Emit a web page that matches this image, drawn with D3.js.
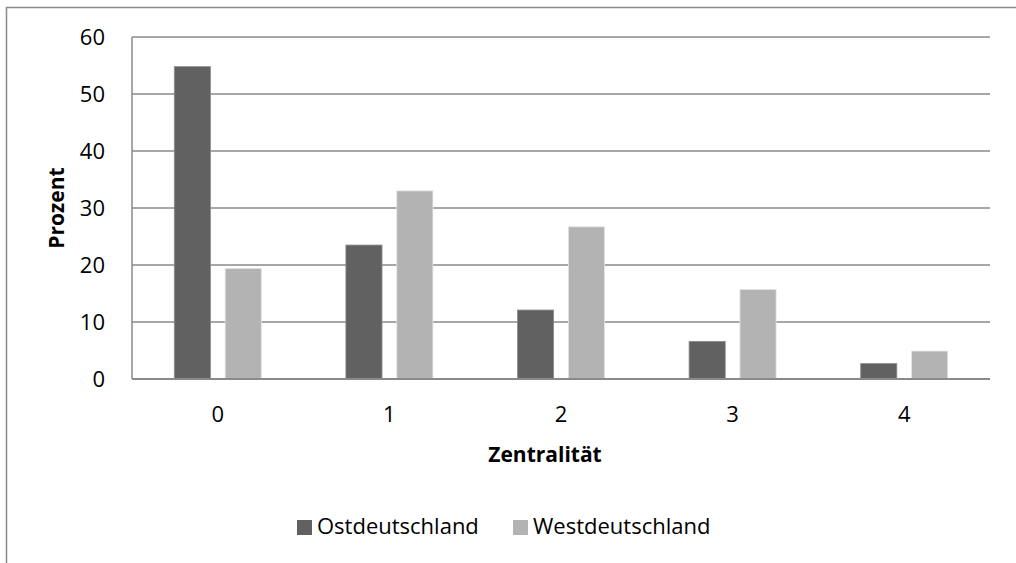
<!DOCTYPE html>
<html>
<head>
<meta charset="utf-8">
<script src="https://cdn.jsdelivr.net/npm/d3@7/dist/d3.min.js"></script>
<style>
  html, body { margin: 0; padding: 0; background: #fff; }
  svg { display: block; font-family: 'Open Sans', sans-serif; }
</style>
</head>
<body>
<div id="chart"></div>
<script>
// ── Data ─────────────────────────────────────
const categories = ["0", "1", "2", "3", "4"];
const seriesNames = ["Ostdeutschland", "Westdeutschland"];
const ostValues  = [54.8, 23.5, 12.1, 6.6, 2.7];
const westValues = [19.4, 33.0, 26.7, 15.7, 4.9];
const yTicks = [0, 10, 20, 30, 40, 50, 60];

const colors = ["#616161", "#b3b3b3"];

// ── Layout ───────────────────────────────────
const W = 1016, H = 563;
const plot = { left: 132, right: 990, top: 37, bottom: 379 };

const svg = d3.select("#chart")
  .append("svg")
  .attr("width", W)
  .attr("height", H);

// outer chart border (runs off right/bottom edge)
svg.append("rect")
  .attr("x", 6.5).attr("y", 7.5)
  .attr("width", W).attr("height", H)
  .attr("fill", "none")
  .attr("stroke", "#8a8a8a")
  .attr("stroke-width", 1.5);

const x0 = d3.scaleBand()
  .domain(categories)
  .range([plot.left, plot.right]);

const x1 = d3.scaleBand()
  .domain(seriesNames)
  .range([0, 87])
  .paddingInner(0.29);

const y = d3.scaleLinear()
  .domain([0, 60])
  .range([plot.bottom, plot.top]);

// ── Grid lines ───────────────────────────────
svg.append("g")
  .selectAll("line")
  .data(yTicks.filter(d => d > 0))
  .join("line")
  .attr("x1", plot.left).attr("x2", plot.right)
  .attr("y1", d => y(d)).attr("y2", d => y(d))
  .attr("stroke", "#8a8a8a")
  .attr("stroke-width", 1.3);

// ── Bars ─────────────────────────────────────
const rows = categories.map((c, i) => ({
  cat: c,
  vals: [
    { name: seriesNames[0], v: ostValues[i] },
    { name: seriesNames[1], v: westValues[i] }
  ]
}));

const groups = svg.append("g")
  .selectAll("g")
  .data(rows)
  .join("g")
  .attr("transform", d => `translate(${x0(d.cat) + x0.bandwidth() / 2 - 43.5},0)`);

groups.selectAll("rect")
  .data(d => d.vals)
  .join("rect")
  .attr("x", d => x1(d.name))
  .attr("y", d => y(d.v))
  .attr("width", x1.bandwidth())
  .attr("height", d => y(0) - y(d.v))
  .attr("fill", (d, i) => colors[i])
  .attr("stroke", (d, i) => i === 0 ? "#8c8c8c" : "#e4e4e4")
  .attr("stroke-width", 0.8);

// ── Axes lines ───────────────────────────────
svg.append("line")
  .attr("x1", plot.left).attr("x2", plot.left)
  .attr("y1", plot.top).attr("y2", plot.bottom)
  .attr("stroke", "#8a8a8a")
  .attr("stroke-width", 1.5);

svg.append("line")
  .attr("x1", plot.left).attr("x2", plot.right)
  .attr("y1", plot.bottom).attr("y2", plot.bottom)
  .attr("stroke", "#8a8a8a")
  .attr("stroke-width", 2);

// ── Tick labels ──────────────────────────────
const yAxis = d3.axisLeft(y).tickValues(yTicks).tickSize(0).tickPadding(27);
svg.append("g")
  .attr("transform", `translate(${plot.left},0)`)
  .call(yAxis)
  .call(g => g.select(".domain").remove())
  .call(g => g.selectAll(".tick text")
    .attr("fill", "#000")
    .attr("font-size", "22px")
    .attr("font-family", "'Open Sans', sans-serif"));

const xAxis = d3.axisBottom(x0).tickSize(0).tickPadding(27);
svg.append("g")
  .attr("transform", `translate(0,${plot.bottom})`)
  .call(xAxis)
  .call(g => g.select(".domain").remove())
  .call(g => g.selectAll(".tick text")
    .attr("fill", "#000")
    .attr("font-size", "22px")
    .attr("font-family", "'Open Sans', sans-serif"));

// ── Axis titles ──────────────────────────────
svg.append("text")
  .attr("x", 545).attr("y", 462)
  .attr("text-anchor", "middle")
  .attr("font-size", "21px")
  .attr("font-weight", "bold")
  .text("Zentralität");

svg.append("text")
  .attr("transform", `translate(64,208) rotate(-90)`)
  .attr("text-anchor", "middle")
  .attr("font-size", "21px")
  .attr("font-weight", "bold")
  .text("Prozent");

// ── Legend ───────────────────────────────────
const legendX = [297, 513];
const legend = svg.append("g")
  .selectAll("g")
  .data(seriesNames)
  .join("g")
  .attr("transform", (d, i) => `translate(${legendX[i]},520)`);

legend.append("rect")
  .attr("width", 15).attr("height", 15)
  .attr("fill", (d, i) => colors[i]);

legend.append("text")
  .attr("x", 20).attr("y", 14)
  .attr("font-size", "22px")
  .text(d => d);
</script>
</body>
</html>
